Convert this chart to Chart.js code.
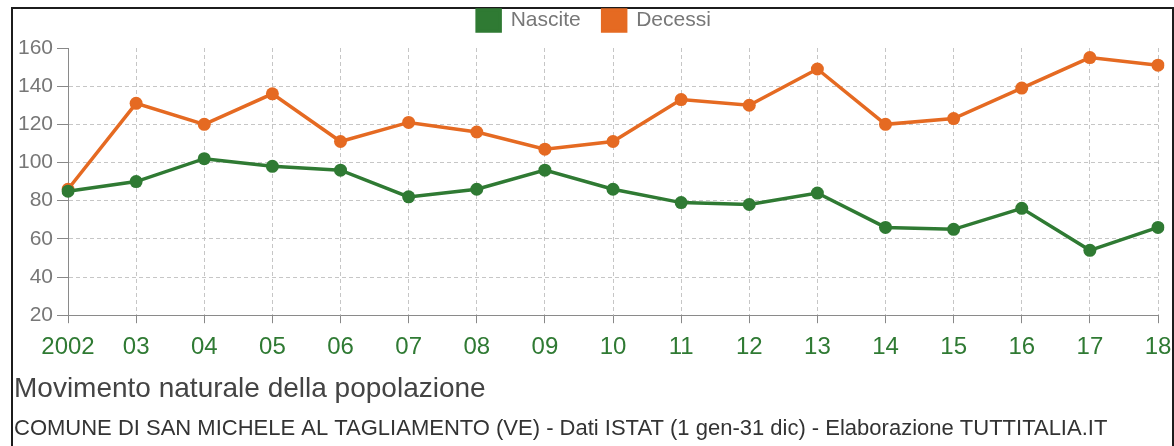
<!DOCTYPE html>
<html>
<head>
<meta charset="utf-8">
<script src="https://cdn.jsdelivr.net/npm/chart.js@4.4.1/dist/chart.umd.min.js"></script>
<style>
    html, body { margin: 0; padding: 0; background: #fff; }
    #frame {
        position: absolute; left: 11px; top: 7px; width: 1159px; height: 460px;
        border: 2px solid #1c1c1c; border-bottom: none;
    }
    #wrap { position: absolute; left: 0; top: 0; width: 1174px; height: 446px; }
</style>
</head>
<body>
<div id="frame"></div>
<div id="wrap"><canvas id="naturalChart"></canvas></div>
<script>
// anni (etichette asse x)
const anni = ['2002', '03', '04', '05', '06', '07', '08', '09', '10', '11', '12', '13', '14', '15', '16', '17', '18'];
// nascite
const nascite = [85, 90, 102, 98, 96, 82, 86, 96, 86, 79, 78, 84, 66, 65, 76, 54, 66];
// decessi
const decessi = [86, 131, 120, 136, 111, 121, 116, 107, 111, 133, 130, 149, 120, 123, 139, 155, 151];
// tick asse y
const yTicks = [20, 40, 60, 80, 100, 120, 140, 160];

const VERDE = '#2f7a33';
const ARANCIO = '#e56a22';
const FONT = "'Liberation Sans', Arial, Helvetica, sans-serif";

// spazio extra sotto la legenda
const legendGap = {
    id: 'legendGap',
    beforeInit: function (chart) {
        const origFit = chart.legend.fit;
        chart.legend.fit = function () {
            origFit.bind(chart.legend)();
            this.height += 7;
        };
    }
};

const ctx = document.getElementById('naturalChart').getContext('2d');
const chart = new Chart(ctx, {
    type: 'line',
    data: {
        labels: anni,
        datasets: [{
            label: 'Nascite',
            data: nascite,
            borderColor: VERDE,
            backgroundColor: VERDE,
            borderWidth: 3.5,
            pointRadius: 6.5,
            pointHoverRadius: 6.5,
            pointBackgroundColor: VERDE,
            pointBorderWidth: 0,
            tension: 0
        }, {
            label: 'Decessi',
            data: decessi,
            borderColor: ARANCIO,
            backgroundColor: ARANCIO,
            borderWidth: 3.5,
            pointRadius: 6.5,
            pointHoverRadius: 6.5,
            pointBackgroundColor: ARANCIO,
            pointBorderWidth: 0,
            tension: 0
        }]
    },
    plugins: [legendGap],
    options: {
        responsive: true,
        maintainAspectRatio: false,
        animation: false,
        layout: {
            padding: { left: 14, right: 0, top: -12, bottom: 4 }
        },
        scales: {
            x: {
                offset: false,
                afterFit: function (scale) {
                    // l'ultima etichetta può uscire un po' dal bordo
                    scale.paddingRight = 16;
                },
                grid: {
                    color: '#c6c6c6',
                    tickColor: '#888',
                    tickLength: 8,
                    tickBorderDash: []
                },
                border: { color: '#8a8a8a', width: 1, dash: [4, 3] },
                ticks: {
                    color: VERDE,
                    padding: 10,
                    maxRotation: 0,
                    autoSkip: false,
                    font: { family: FONT, size: 24 }
                }
            },
            y: {
                min: yTicks[0],
                max: yTicks[yTicks.length - 1],
                afterBuildTicks: function (scale) {
                    scale.ticks = yTicks.map(function (v) { return { value: v }; });
                },
                afterFit: function (scale) {
                    scale.width = 54;
                },
                grid: {
                    color: function (c) {
                        return c.tick && c.tick.value === 160 ? 'rgba(0,0,0,0)' : '#c6c6c6';
                    },
                    tickColor: '#888',
                    tickLength: 11,
                    tickBorderDash: []
                },
                border: { color: '#8a8a8a', width: 1, dash: [4, 3] },
                ticks: {
                    color: '#777',
                    padding: 4,
                    font: { family: FONT, size: 21 }
                }
            }
        },
        plugins: {
            legend: {
                position: 'top',
                labels: {
                    boxWidth: 23,
                    boxHeight: 21,
                    padding: 22,
                    color: '#777',
                    font: { family: FONT, size: 21 }
                }
            },
            title: {
                display: true,
                text: 'Movimento naturale della popolazione',
                position: 'bottom',
                align: 'start',
                weight: 1000,
                color: '#444',
                padding: { top: 0, bottom: 5 },
                font: { family: FONT, size: 28, weight: 'normal' }
            },
            subtitle: {
                display: true,
                text: 'COMUNE DI SAN MICHELE AL TAGLIAMENTO (VE) - Dati ISTAT (1 gen-31 dic) - Elaborazione TUTTITALIA.IT',
                position: 'bottom',
                align: 'start',
                weight: 2000,
                color: '#333',
                padding: { top: 5, bottom: 0 },
                font: { family: FONT, size: 22, weight: 'normal' }
            },
            tooltip: { enabled: false }
        }
    }
});
</script>
</body>
</html>
